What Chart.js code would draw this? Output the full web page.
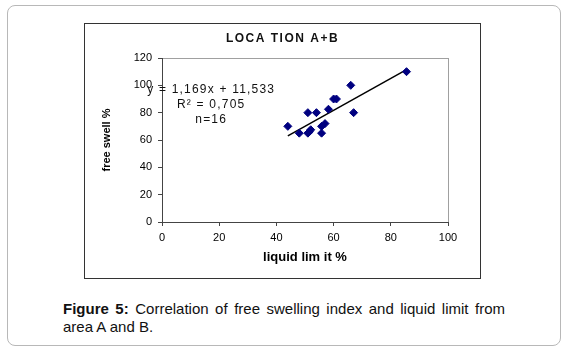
<!DOCTYPE html>
<html>
<head>
<meta charset="utf-8">
<script src="https://cdn.jsdelivr.net/npm/chart.js@4"></script>
<style>
  html, body { margin: 0; padding: 0; background: #fff; }
  body { width: 567px; height: 352px; position: relative; overflow: hidden; font-family: "Liberation Sans", Arial, sans-serif; }
  .frame { position: absolute; left: 7px; top: 5px; width: 554px; height: 341px; border: 1px solid #b8b8b8; border-radius: 8px; box-sizing: border-box; }
  .box { position: absolute; left: 84px; top: 23px; width: 397px; height: 256px; border: 1px solid #333; box-sizing: border-box; }
  .box canvas { position: absolute; left: 0; top: 0; }
  .caption { position: absolute; left: 63px; top: 300px; width: 442px; font-size: 15px; line-height: 18px; color: #111; text-align: justify; }
</style>
</head>
<body>
<div class="frame"></div>
<div class="box"><canvas id="c" width="395" height="254"></canvas></div>
<div class="caption"><b>Figure 5:</b> Correlation of free swelling index and liquid limit from area A and B.</div>
<script>
// liquid limit % (x) and free swell % (y)
const liquidLimit = [44, 48, 51, 51.5, 52, 51, 54, 55.8, 55.8, 57, 58.2, 60, 61, 66, 67, 85.5];
const freeSwell   = [70, 65, 65, 66, 67.5, 80, 80, 65, 70, 72, 82.5, 90, 90, 100, 80, 110];

// trend line end points as drawn
const trendX = [44, 85.5];
const trendY = [63, 111.5];

const chartTitle = 'LOCA TION A+B';
const xTitle = 'liquid lim it %';
const yTitle = 'free swell %';
const regressionText = ['y = 1,169x + 11,533', 'R\u00b2 = 0,705', 'n=16'];

const FONT = "'Liberation Sans', Arial, sans-serif";

const extras = {
  id: 'extras',
  beforeDraw(chart) {
    const { ctx, chartArea: a } = chart;
    ctx.save();
    ctx.strokeStyle = '#a0a0a0';
    ctx.lineWidth = 1;
    ctx.strokeRect(Math.round(a.left) + 0.5, Math.round(a.top) + 0.5, Math.round(a.right - a.left), Math.round(a.bottom - a.top));
    ctx.restore();
  },
  afterDraw(chart) {
    const { ctx } = chart;
    const xs = chart.scales.x, ys = chart.scales.y;
    ctx.save();
    ctx.fillStyle = '#111';
    ctx.textAlign = 'center';
    ctx.textBaseline = 'middle';
    ctx.font = 'bold 12px ' + FONT;
    ctx.letterSpacing = '1.5px';
    ctx.fillText(chartTitle, chart.width / 2, 15);
    ctx.font = '12px ' + FONT;
    ctx.letterSpacing = '1.2px';
    const cx = xs.getPixelForValue(17.2);
    [96.5, 85.5, 74.5].forEach((v, i) => {
      ctx.fillText(regressionText[i], cx, ys.getPixelForValue(v));
    });
    ctx.restore();
  }
};

new Chart(document.getElementById('c'), {
  type: 'scatter',
  data: {
    datasets: [
      {
        label: 'points',
        data: liquidLimit.map((x, i) => ({ x: x, y: freeSwell[i] })),
        pointStyle: 'rectRot',
        pointRadius: 4,
        backgroundColor: '#000080',
        borderColor: '#000080',
        borderWidth: 1
      },
      {
        label: 'trend',
        type: 'line',
        data: trendX.map((x, i) => ({ x: x, y: trendY[i] })),
        borderColor: '#000',
        borderWidth: 1.5,
        pointRadius: 0,
        fill: false
      }
    ]
  },
  options: {
    responsive: false,
    animation: false,
    devicePixelRatio: 1,
    layout: { padding: { left: 0, right: 32, top: 34, bottom: 0 } },
    plugins: {
      legend: { display: false },
      tooltip: { enabled: false },
      title: { display: false }
    },
    scales: {
      x: {
        type: 'linear',
        min: 0, max: 100,
        afterFit(s) { s.height = 56; },
        ticks: { stepSize: 20, color: '#000', padding: 5, font: { family: FONT, size: 11 } },
        grid: { drawOnChartArea: false, drawTicks: true, tickLength: 4, color: '#444' },
        border: { color: '#444', width: 1 },
        title: { display: true, text: xTitle, color: '#000', font: { family: FONT, size: 13, weight: 'bold' }, padding: { top: 0, bottom: 13 } }
      },
      y: {
        type: 'linear',
        min: 0, max: 120,
        afterFit(s) { s.width = 77; },
        ticks: { stepSize: 20, color: '#000', padding: 6, font: { family: FONT, size: 11 } },
        grid: { drawOnChartArea: false, drawTicks: true, tickLength: 4, color: '#444' },
        border: { color: '#444', width: 1 },
        title: { display: true, text: yTitle, color: '#000', font: { family: FONT, size: 11, weight: 'bold' }, padding: { top: 15, bottom: 0 } }
      }
    }
  },
  plugins: [extras]
});
</script>
</body>
</html>
